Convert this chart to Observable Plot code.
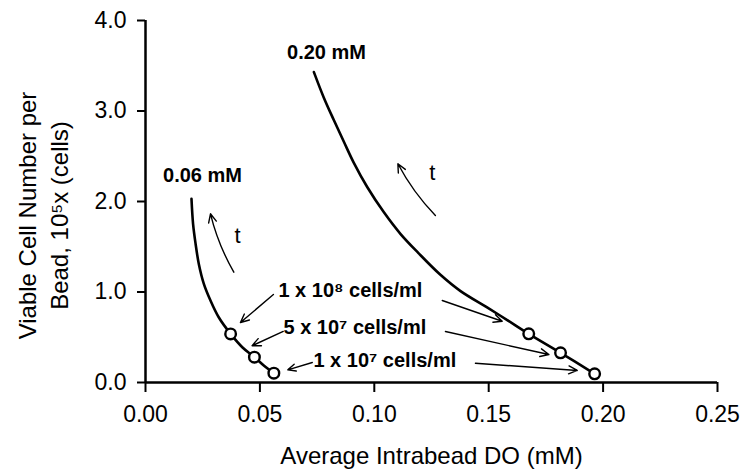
<!DOCTYPE html>
<html>
<head>
<meta charset="utf-8">
<script src="https://cdn.jsdelivr.net/npm/d3@7"></script>
<script src="https://cdn.jsdelivr.net/npm/@observablehq/plot@0.6"></script>
<style>
  html, body { margin: 0; padding: 0; background: #fff; }
  #chart { width: 744px; height: 474px; }
</style>
</head>
<body>
<div id="chart"></div>
<script>
// Curve traces (x: Average Intrabead DO, mM; y: viable cells per bead, 1e5)
const lowX  = [0.0201, 0.0208, 0.0219, 0.0233, 0.0255, 0.0284, 0.0320, 0.0372, 0.0423, 0.0476, 0.0517, 0.0561];
const lowY  = [2.03,   1.75,   1.53,   1.31,   1.09,   0.906,  0.721,  0.537,  0.39,   0.28,   0.188,  0.103];
const highX = [0.0736, 0.0779, 0.0823, 0.0867, 0.0910, 0.0969, 0.1042, 0.1115, 0.1193, 0.1289, 0.1377, 0.1493, 0.1581, 0.1675, 0.1814, 0.1963];
const highY = [3.43,   3.15,   2.90,   2.66,   2.43,   2.16,   1.88,   1.64,   1.43,   1.19,   1.01,   0.83,   0.69,   0.538,  0.328,  0.096];

// Marked points (seeding densities)
const lowPtX  = [0.0372, 0.0476, 0.0561];
const lowPtY  = [0.537, 0.28, 0.103];
const highPtX = [0.1675, 0.1814, 0.1963];
const highPtY = [0.538, 0.328, 0.096];

// Tick values
const xTicks = [0, 0.05, 0.10, 0.15, 0.20, 0.25];
const yTicks = [0, 1, 2, 3, 4];

// Annotation texts
const curveLabels = ["0.06 mM", "0.20 mM"];
const curveLabelX = [0.0249, 0.0791];
const curveLabelY = [2.29, 3.65];

const densityLabels = ["1 x 10\u2078 cells/ml", "5 x 10\u2077 cells/ml", "1 x 10\u2077 cells/ml"];
const densityLabelX = [0.0581, 0.0603, 0.0734];
const densityLabelY = [1.02, 0.61, 0.243];

// Pointer arrows from density labels to points
const ptrX1 = [0.0559, 0.1297, 0.0602, 0.1311, 0.0729, 0.1442];
const ptrY1 = [0.972,  0.906,  0.564,  0.564,  0.221,  0.213];
const ptrX2 = [0.0415, 0.1559, 0.0466, 0.1763, 0.0622, 0.1887];
const ptrY2 = [0.663,  0.677,  0.406,  0.309,  0.140,  0.133];

// Time arrows and "t" labels
const tArrX1 = [0.0386, 0.1267];
const tArrY1 = [1.219, 1.845];
const tArrX2 = [0.0284, 0.1103];
const tArrY2 = [1.864, 2.417];
const tLabelX = [0.0402, 0.1254];
const tLabelY = [1.62, 2.31];

const xTitle = "Average Intrabead DO (mM)";
const yTitle = "Viable Cell Number per\nBead, 10\u2075x (cells)";

const zip = (xs, ys) => xs.map((x, i) => ({x, y: ys[i]}));
const low = zip(lowX, lowY);
const high = zip(highX, highY);
const pts = zip(lowPtX.concat(highPtX), lowPtY.concat(highPtY));
const cLabels = curveLabels.map((t, i) => ({t, x: curveLabelX[i], y: curveLabelY[i]}));
const dLabels = densityLabels.map((t, i) => ({t, x: densityLabelX[i], y: densityLabelY[i]}));
const ptrs = ptrX1.map((x1, i) => ({x1, y1: ptrY1[i], x2: ptrX2[i], y2: ptrY2[i]}));
const tArrs = tArrX1.map((x1, i) => ({x1, y1: tArrY1[i], x2: tArrX2[i], y2: tArrY2[i]}));
const tLabels = tLabelX.map((x, i) => ({t: "t", x, y: tLabelY[i]}));

const font = "'Liberation Sans', Arial, Helvetica, sans-serif";

const chart = Plot.plot({
  width: 744,
  height: 474,
  marginLeft: 145,
  marginRight: 27,
  marginTop: 20,
  marginBottom: 92,
  style: {fontFamily: font, fontSize: "23px", color: "#000", background: "#fff"},
  x: {domain: [0, 0.25]},
  y: {domain: [0, 4]},
  marks: [
    Plot.axisX({ticks: xTicks, tickSize: 10, tickPadding: 13, tickFormat: d3.format(".2f"), strokeWidth: 2, label: null, fontSize: 23}),
    Plot.axisY({ticks: yTicks, tickSize: 8, tickPadding: 11, tickFormat: d3.format(".1f"), strokeWidth: 2, label: null, fontSize: 23}),
    Plot.ruleY([0], {stroke: "#000", strokeWidth: 2.5}),
    Plot.ruleX([0], {stroke: "#000", strokeWidth: 2.5}),
    Plot.line(low, {x: "x", y: "y", curve: "catmull-rom", stroke: "#000", strokeWidth: 2.6}),
    Plot.line(high, {x: "x", y: "y", curve: "catmull-rom", stroke: "#000", strokeWidth: 2.6}),
    Plot.dot(pts, {x: "x", y: "y", r: 5.3, stroke: "#000", strokeWidth: 2.4, fill: "#fff"}),
    Plot.arrow(ptrs, {x1: "x1", y1: "y1", x2: "x2", y2: "y2", stroke: "#000", strokeWidth: 1.4, headLength: 10, headAngle: 50}),
    Plot.arrow(tArrs, {x1: "x1", y1: "y1", x2: "x2", y2: "y2", stroke: "#000", strokeWidth: 1.4, headLength: 10, headAngle: 50, bend: 8}),
    Plot.text(cLabels, {x: "x", y: "y", text: "t", fontWeight: "bold", fontSize: 20, fill: "#000"}),
    Plot.text(dLabels, {x: "x", y: "y", text: "t", textAnchor: "start", fontWeight: "bold", fontSize: 20, fill: "#000"}),
    Plot.text(tLabels, {x: "x", y: "y", text: "t", fontSize: 22, fill: "#000"}),
    Plot.text([xTitle], {frameAnchor: "bottom", dy: 81, fontSize: 24, fill: "#000"}),
    Plot.text([yTitle], {frameAnchor: "left", textAnchor: "middle", rotate: -90, dx: -104, dy: 14, fontSize: 24, lineHeight: 1.33, fill: "#000"})
  ]
});
document.getElementById("chart").appendChild(chart);
</script>
</body>
</html>
